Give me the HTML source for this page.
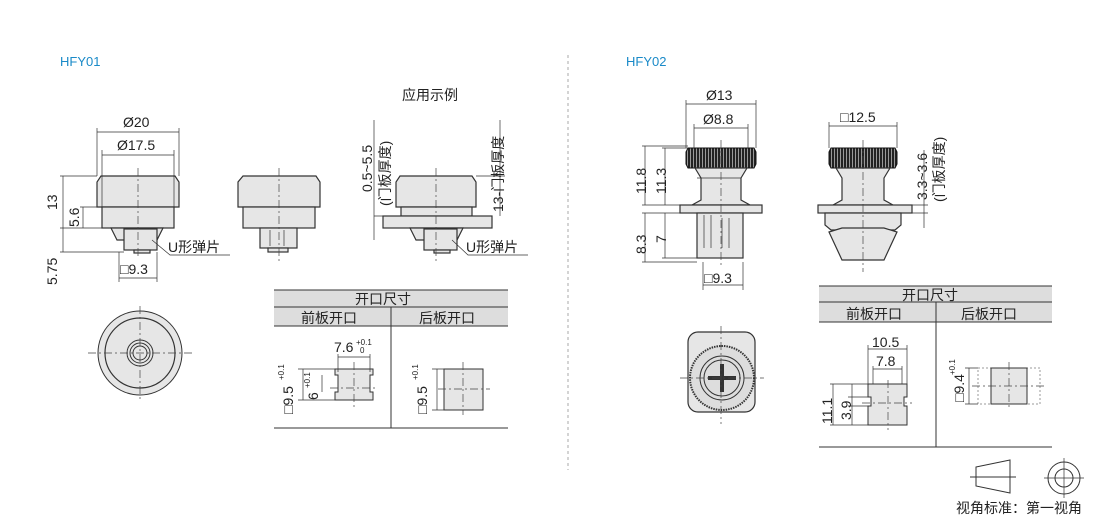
<!DOCTYPE html>
<html><head><meta charset="utf-8"><style>
html,body{margin:0;padding:0;background:#fff;width:1110px;height:520px;overflow:hidden}
svg{display:block}
text{font-family:"Liberation Sans","Noto Sans CJK SC",sans-serif;fill:#222}
.b{fill:#e6e6e6;stroke:#333;stroke-width:1.2}
.d{fill:url(#kn);stroke:#111;stroke-width:1}
.l{stroke:#333;stroke-width:0.7;fill:none}
.c{stroke:#444;stroke-width:0.7;stroke-dasharray:8 3 2 3;fill:none}
.t{font-size:14px}
.s{font-size:8px}
</style></head><body>
<svg width="1110" height="520" viewBox="0 0 1110 520">
<defs><pattern id="kn" width="3" height="10" patternUnits="userSpaceOnUse"><rect width="3" height="10" fill="#222"/><rect width="1" height="10" fill="#999"/></pattern></defs>
<text x="60" y="66" style="font-size:13px;fill:#1a8ac8">HFY01</text>
<text x="626" y="66" style="font-size:13px;fill:#1a8ac8">HFY02</text>
<text x="402" y="100" class="t">应用示例</text>
<line x1="568" y1="55" x2="568" y2="470" stroke="#aaa" stroke-dasharray="3 3"/>

<!-- HFY01 front view -->
<path class="b" d="M101,176 H175 L179,182 V207 H97 V182 Z"/>
<rect class="b" x="102" y="207" width="72" height="21"/>
<path class="b" d="M111,228 H163 L157,240 H117 Z"/>
<rect class="b" x="124" y="229" width="33" height="21"/>
<rect class="b" x="134" y="250" width="16" height="3"/>
<line class="c" x1="138" y1="168" x2="138" y2="258"/>
<path class="l" d="M97,128 V176 M179,128 V176 M102,150 V207 M174,150 V207 M97,132 H179 M102,155 H174 M60,176 H97 M60,228 H102 M60,252 H124 M80,207 H102 M63,176 V228 M63,228 V252 M83,207 V228 M119,252 V282 M157,252 V282 M119,278 H157 M152,240 L170,255 H230"/>
<text x="123" y="127" class="t">Ø20</text>
<text x="117" y="150" class="t">Ø17.5</text>
<text x="120" y="274" class="t">□9.3</text>
<text x="168" y="252" class="t">U形弹片</text>
<text transform="translate(57,210) rotate(-90)" class="t">13</text>
<text transform="translate(79,227) rotate(-90)" class="t">5.6</text>
<text transform="translate(57,285) rotate(-90)" class="t">5.75</text>

<!-- middle -->
<path class="b" d="M243,176 H316 L320,182 V207 H238 V182 Z"/>
<rect class="b" x="243" y="207" width="72" height="21"/>
<rect class="b" x="260" y="228" width="37" height="20"/>
<rect class="b" x="268" y="248" width="20" height="4"/>
<line class="l" x1="270" y1="230" x2="270" y2="246"/><line class="l" x1="284" y1="230" x2="284" y2="246"/>
<line class="c" x1="279" y1="168" x2="279" y2="262"/>

<!-- application -->
<path class="b" d="M400,176 H472 L476,182 V207 H396 V182 Z"/>
<rect class="b" x="401" y="207" width="71" height="9"/>
<rect class="b" x="383" y="216" width="109" height="12"/>
<path class="b" d="M410,228 H463 L457,240 H416 Z"/>
<rect class="b" x="424" y="229" width="33" height="21"/>
<rect class="b" x="434" y="250" width="16" height="3"/>
<line class="c" x1="436" y1="168" x2="436" y2="262"/>
<path class="l" d="M374,120 V240 M374,216 H383 M500,120 V216 M476,176 H505 M500,176 V216 M452,240 L468,255 H528"/>
<text transform="translate(372,192) rotate(-90)" class="t">0.5~5.5</text>
<text transform="translate(390,206) rotate(-90)" class="t">(门板厚度)</text>
<text transform="translate(503,212) rotate(-90)" class="t">13-门板厚度</text>
<text x="466" y="252" class="t">U形弹片</text>

<!-- top view HFY01 -->
<circle cx="140" cy="353" r="42" class="b" style="stroke-width:1"/>
<circle cx="140" cy="353" r="35" fill="none" stroke="#333" stroke-width="1.2"/>
<circle cx="140" cy="353" r="13" fill="none" stroke="#333"/>
<circle cx="140" cy="353" r="10" fill="none" stroke="#333"/>
<circle cx="140" cy="353" r="7" fill="none" stroke="#333"/>
<line class="c" x1="88" y1="353" x2="192" y2="353"/><line class="c" x1="140" y1="306" x2="140" y2="402"/>

<!-- table 1 -->
<rect x="274" y="290" width="234" height="36" fill="#ddd"/>
<path class="l" style="stroke-width:1" d="M274,290 H508 M274,307 H508 M274,326 H508 M274,428 H508 M391,307 V428"/>
<text x="355" y="304" class="t">开口尺寸</text>
<text x="301" y="323" class="t">前板开口</text>
<text x="419" y="323" class="t">后板开口</text>
<path class="b" style="stroke-width:1" d="M335,369 H373 V375 H370 V392 H373 V400 H335 V392 H338 V375 H335 Z"/>
<line class="c" x1="330" y1="388" x2="378" y2="388"/><line class="c" x1="354" y1="362" x2="354" y2="410"/>
<path class="l" d="M338,354 V372 M370,354 V372 M338,357 H370 M298,369 H335 M298,400 H335 M303,369 V400 M322,375 V392"/>
<text x="334" y="352" class="t">7.6</text><text x="356" y="345" class="s">+0.1</text><text x="360" y="353" class="s">0</text>
<text transform="translate(293,414) rotate(-90)" class="t">□9.5</text>
<text transform="translate(284,380) rotate(-90)" class="s">+0.1</text>
<text transform="translate(318,400) rotate(-90)" class="t">6</text>
<text transform="translate(310,388) rotate(-90)" class="s">+0.1</text>
<rect class="b" style="stroke-width:1" x="444" y="369" width="39" height="41"/>
<line class="c" x1="438" y1="389" x2="490" y2="389"/><line class="c" x1="463" y1="362" x2="463" y2="415"/>
<path class="l" d="M432,369 H444 M432,410 H444 M437,369 V410"/>
<text transform="translate(427,414) rotate(-90)" class="t">□9.5</text>
<text transform="translate(418,380) rotate(-90)" class="s">+0.1</text>

<!-- HFY02 side -->
<path class="d" d="M688,148 H754 L756,152 V164 L754,168 H688 L686,164 V152 Z"/>
<path class="b" d="M695,168 H747 L741,178 V200 L750,205 H692 L701,200 V178 Z"/>
<rect class="b" x="680" y="205" width="82" height="8"/>
<rect class="b" x="697" y="213" width="46" height="45"/>
<path class="l" d="M704,215 V248 M711,215 V248 M722,218 V248 M729,218 V248 M697,178 H741"/>
<line class="c" x1="721" y1="140" x2="721" y2="266"/>
<path class="l" d="M686,100 V148 M756,100 V148 M694,124 V148 M748,124 V148 M686,104 H756 M694,128 H748 M642,146 H688 M662,148 H688 M642,205 H680 M662,205 H680 M642,213 H697 M662,213 H697 M642,262 H697 M662,258 H697 M645,146 V205 M665,148 V205 M645,213 V262 M665,213 V258 M703,262 V290 M743,262 V290 M703,285 H743"/>
<text x="706" y="100" class="t">Ø13</text>
<text x="703" y="124" class="t">Ø8.8</text>
<text transform="translate(646,194) rotate(-90)" class="t">11.8</text>
<text transform="translate(666,194) rotate(-90)" class="t">11.3</text>
<text transform="translate(646,254) rotate(-90)" class="t">8.3</text>
<text transform="translate(666,243) rotate(-90)" class="t">7</text>
<text x="704" y="283" class="t">□9.3</text>

<!-- HFY02 second -->
<path class="d" d="M831,148 H895 L897,152 V164 L895,168 H831 L829,164 V152 Z"/>
<path class="b" d="M836,168 H890 L884,178 V200 L893,205 H833 L842,200 V178 Z"/>
<rect class="b" x="818" y="205" width="94" height="8"/>
<path class="b" d="M825,213 H901 V225 L895,230 H831 L825,225 Z"/>
<path class="b" d="M829,232 L842,228 H884 L897,232 L884,260 H842 Z"/>
<line class="c" x1="863" y1="140" x2="863" y2="272"/>
<path class="l" d="M829,122 V148 M897,122 V148 M829,126 H897 M912,205 H928 M912,213 H928 M924,150 V228"/>
<text x="840" y="122" class="t">□12.5</text>
<text transform="translate(927,200) rotate(-90)" class="t">3.3~3.6</text>
<text transform="translate(944,202) rotate(-90)" class="t">(门板厚度)</text>

<!-- HFY02 top -->
<rect class="b" x="688" y="332" width="67" height="80" rx="10"/>
<circle cx="722" cy="378" r="32" fill="#ddd" stroke="#333" stroke-width="2" stroke-dasharray="1.5 1"/>
<circle cx="722" cy="378" r="22" fill="none" stroke="#333"/>
<circle cx="722" cy="378" r="18" fill="none" stroke="#333"/>
<path d="M708,378 H736 M722,364 V392" stroke="#333" stroke-width="4"/>
<line class="c" x1="680" y1="378" x2="764" y2="378"/><line class="c" x1="721" y1="326" x2="721" y2="424"/>

<!-- table 2 -->
<rect x="819" y="286" width="233" height="36" fill="#ddd"/>
<path class="l" style="stroke-width:1" d="M819,286 H1052 M819,302 H1052 M819,322 H1052 M819,447 H1052 M936,302 V447"/>
<text x="902" y="300" class="t">开口尺寸</text>
<text x="846" y="319" class="t">前板开口</text>
<text x="961" y="319" class="t">后板开口</text>
<path class="b" style="stroke-width:1" d="M868,384 H907 V397 H904 V406 H907 V425 H868 V406 H871 V397 H868 Z"/>
<line class="c" x1="862" y1="403" x2="912" y2="403"/><line class="c" x1="888" y1="380" x2="888" y2="430"/>
<path class="l" d="M868,345 V384 M907,345 V384 M873,366 V384 M902,366 V384 M868,349 H907 M873,369 H902 M830,384 H868 M830,425 H868 M848,397 H868 M848,406 H868 M833,384 V425 M852,384 V425"/>
<text x="872" y="347" class="t">10.5</text>
<text x="876" y="366" class="t">7.8</text>
<text transform="translate(832,424) rotate(-90)" class="t">11.1</text>
<text transform="translate(851,420) rotate(-90)" class="t">3.9</text>
<rect x="978" y="368" width="62" height="36" fill="none" stroke="#999" stroke-dasharray="2 2"/>
<rect class="b" style="stroke-width:1" x="991" y="368" width="36" height="36"/>
<line class="c" x1="972" y1="386" x2="1046" y2="386"/><line class="c" x1="1009" y1="362" x2="1009" y2="410"/>
<path class="l" d="M965,368 H978 M965,404 H978 M969,368 V404"/>
<text transform="translate(964,402) rotate(-90)" class="t">□9.4</text>
<text transform="translate(955,375) rotate(-90)" class="s">+0.1</text>

<!-- symbols -->
<path class="l" style="stroke-width:1" d="M976,467 L1010,460 V493 L976,486 Z M970,477 H1016"/>
<circle cx="1064" cy="478" r="16" class="l" style="stroke-width:1"/>
<circle cx="1064" cy="478" r="9" class="l" style="stroke-width:1"/>
<path class="l" d="M1044,478 H1084 M1064,458 V498"/>
<text x="956" y="513" class="t">视角标准：第一视角</text>
</svg>
</body></html>
